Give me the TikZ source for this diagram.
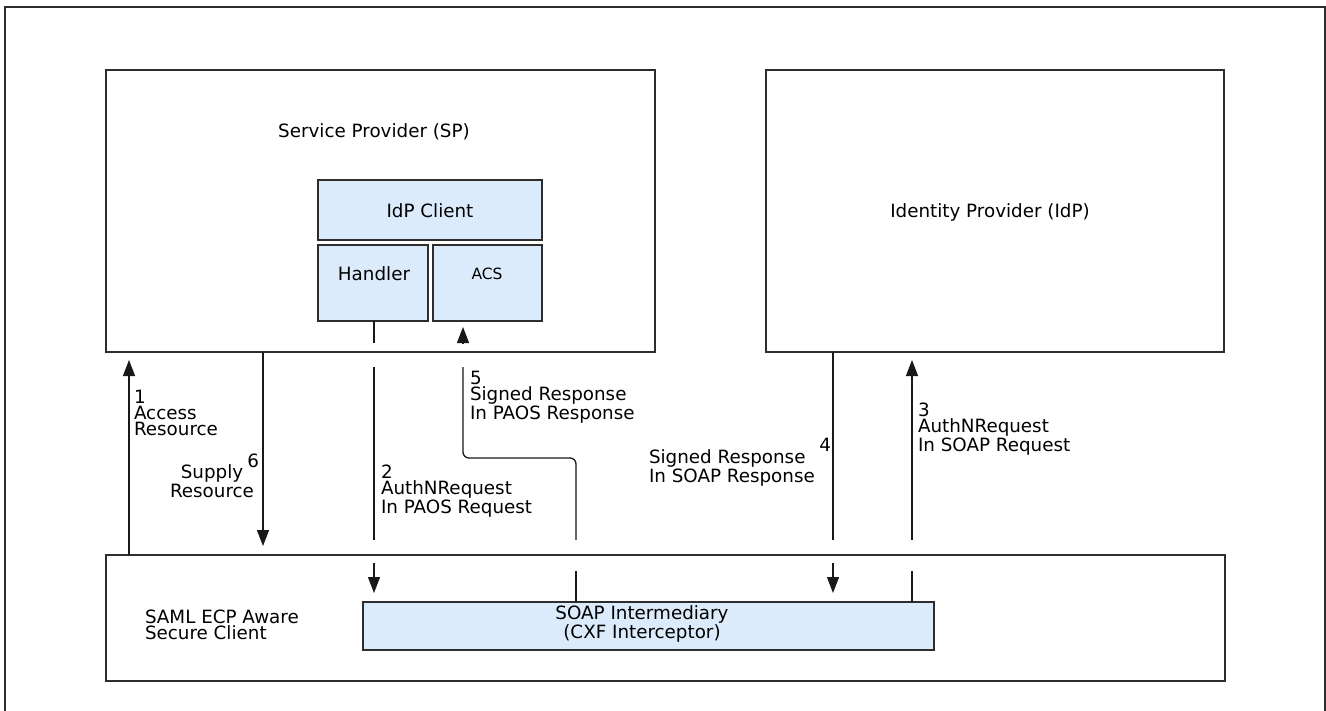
\documentclass[tikz,border=0pt]{standalone}
\usepackage{fontspec}
\setmainfont{DejaVu Sans}
\usetikzlibrary{arrows.meta}
\definecolor{boxfill}{RGB}{220,235,251}
\definecolor{edge}{RGB}{45,45,45}
\definecolor{wire}{RGB}{25,25,25}
\tikzset{
  frame/.style={draw=edge, line width=1.9pt, rectangle, inner sep=0pt, outer sep=0pt, anchor=north west},
  panel/.style={frame, fill=boxfill},
  flow/.style={draw=wire, line width=1.3pt},
  tip/.style={flow, -{Triangle[length=16pt,width=12pt]}},
  lbl/.style={inner sep=0pt, outer sep=0pt, align=left, font=\fontsize{18.3}{15.8}\selectfont},
  clbl/.style={lbl, align=center},
}
\begin{document}
\begin{tikzpicture}[x=1pt,y=-1pt]
  \clip (0,0) rectangle (1326,710);
  \fill[white] (0,0) rectangle (1326,710);

  % outer page frame (runs past the lower edge)
  \node (page) [frame, minimum width=1320pt, minimum height=800pt] at (5,7) {};

  % parties
  \node (sp)  [frame, minimum width=549pt, minimum height=282pt] at (106,70) {};
  \node (idp) [frame, minimum width=458pt, minimum height=282pt] at (766,70) {};
  \node (client) [frame, minimum width=1119pt, minimum height=126pt] at (106,555) {};

  % components
  \node (idpc)    [panel, minimum width=224pt, minimum height=60pt] at (318,180) {};
  \node (handler) [panel, minimum width=110pt, minimum height=76pt] at (318,245) {};
  \node (acs)     [panel, minimum width=109pt, minimum height=76pt] at (433,245) {};
  \node (soap)    [panel, minimum width=571pt, minimum height=48pt] at (363,602) {};

  % titles (base anchor = baseline of the last line)
  \node (tsp)  [lbl, anchor=base] at (374,137) {Service Provider (SP)};
  \node (tidp) [lbl, anchor=base] at (990,217) {Identity Provider (IdP)};
  \node (tidpc) [lbl, anchor=base] at (430,217) {IdP Client};
  \node (thand) [lbl, anchor=base] at (374,280) {Handler};
  \node (tacs)  [lbl, anchor=base, font=\fontsize{15.5}{15}\selectfont] at (487,279) {ACS};
  \node (tcl)  [lbl, anchor=base west] at (145,639) {SAML ECP Aware\\Secure Client};
  \node (tsoap) [clbl, anchor=base] at (642,638) {SOAP Intermediary\\(CXF Interceptor)};

  % connector end points
  \coordinate (a1)  at (129,360);
  \coordinate (a6)  at (263,546);
  \coordinate (h2a) at (374,343);
  \coordinate (h2b) at (374,367);
  \coordinate (h2c) at (374,540);
  \coordinate (h2d) at (374,563);
  \coordinate (h2e) at (374,593);
  \coordinate (r5a) at (463,344);
  \coordinate (r5b) at (463,327);
  \coordinate (r5c) at (463,367);
  \coordinate (r5d) at (576,458);
  \coordinate (r5e) at (576,540);
  \coordinate (r5f) at (576,571);
  \coordinate (s4a) at (833,540);
  \coordinate (s4b) at (833,563);
  \coordinate (s4c) at (833,593);
  \coordinate (q3a) at (912,540);
  \coordinate (q3b) at (912,360);
  \coordinate (q3c) at (912,571);

  % 1 access / 6 supply
  \draw[tip] (client.north -| a1) -- (a1);
  \draw[tip] (sp.south -| a6) -- (a6);

  % 2 AuthNRequest in PAOS request
  \draw[flow] (handler.south -| h2a) -- (h2a);
  \draw[flow] (h2b) -- (h2c);
  \draw[tip] (h2d) -- (h2e);

  % 5 signed response in PAOS response
  \draw[tip] (r5a) -- (r5b);
  \draw[flow, rounded corners=6pt] (r5c) |- (r5d) -- (r5e);
  \draw[flow] (r5f) -- (soap.north -| r5f);

  % 4 signed response in SOAP response
  \draw[flow] (idp.south -| s4a) -- (s4a);
  \draw[tip] (s4b) -- (s4c);

  % 3 AuthNRequest in SOAP request
  \draw[tip] (q3a) -- (q3b);
  \draw[flow] (q3c) -- (soap.north -| q3c);

  % message labels
  \node (l1) [lbl, anchor=base west] at (134,435) {1\\Access\\Resource};
  \node (l6n) [lbl, anchor=base east] at (259,467) {6};
  \node (l6) [clbl, anchor=base] at (212,497) {Supply\\Resource};
  \node (l2) [lbl, anchor=base west] at (381,513) {2\\AuthNRequest\\In PAOS Request};
  \node (l5) [lbl, anchor=base west] at (470,419) {5\\Signed Response\\In PAOS Response};
  \node (l4n) [lbl, anchor=base east] at (831,451) {4};
  \node (l4) [lbl, anchor=base west] at (649,482) {Signed Response\\In SOAP Response};
  \node (l3) [lbl, anchor=base west] at (918,451) {3\\AuthNRequest\\In SOAP Request};
\end{tikzpicture}
\end{document}
